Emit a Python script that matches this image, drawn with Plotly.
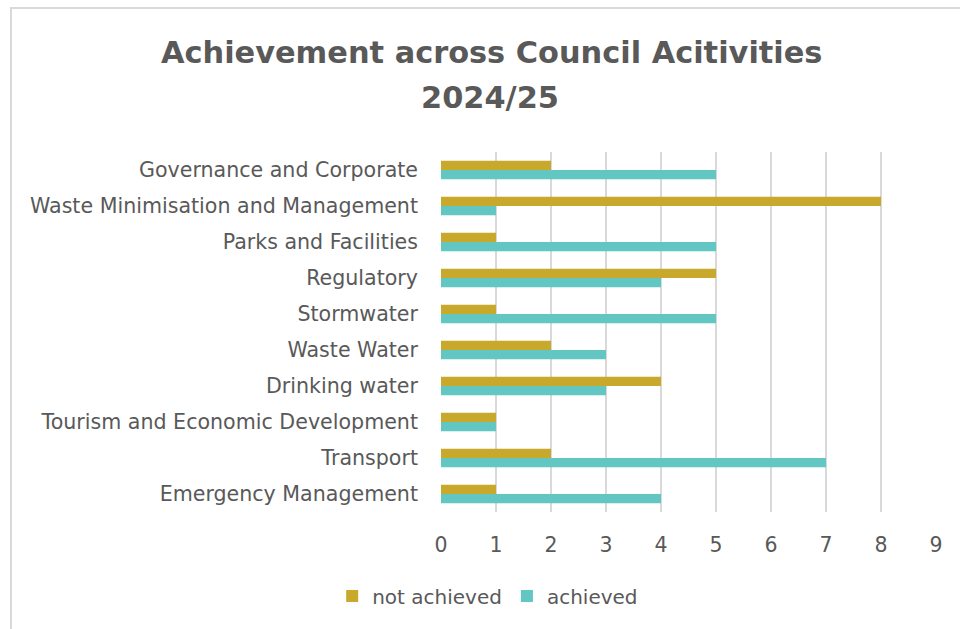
import plotly.graph_objects as go

categories = ["Governance and Corporate", "Waste Minimisation and Management", "Parks and Facilities",
              "Regulatory", "Stormwater", "Waste Water", "Drinking water",
              "Tourism and Economic Development", "Transport", "Emergency Management"]
not_achieved = [2, 8, 1, 5, 1, 2, 4, 1, 2, 1]
achieved = [5, 1, 5, 4, 5, 3, 3, 1, 7, 4]
x_ticks = list(range(0, 10))

GOLD = "#C9A92C"
TEAL = "#62C6C2"
TEXT = "#595959"
GRID = "#D9D9D9"

W, H = 960, 629
L, R, T, B = 441, 936, 152, 512
pw, ph = R - L, B - T

fig = go.Figure()
fig.add_trace(go.Bar(y=categories, x=not_achieved, name="not achieved", orientation="h",
                     marker=dict(color=GOLD, line=dict(width=0))))
fig.add_trace(go.Bar(y=categories, x=achieved, name="achieved", orientation="h",
                     marker=dict(color=TEAL, line=dict(width=0))))

font_main = "DejaVu Sans, Open Sans, Arial, sans-serif"
title_font = "DejaVu Sans, Liberation Sans, Arial, sans-serif"
fig.update_layout(
    width=W, height=H,
    margin=dict(l=L, r=W - R, t=T, b=H - B, pad=0),
    paper_bgcolor="white", plot_bgcolor="white",
    barmode="group", bargap=0.48, bargroupgap=0,
    font=dict(family=font_main, color=TEXT, size=20),
    showlegend=True,
    legend=dict(orientation="h", xref="container", yref="container", x=0.508, y=1 - 596 / H,
                xanchor="center", yanchor="middle", font=dict(size=20, color=TEXT),
                itemwidth=30, tracegroupgap=0),
    xaxis=dict(range=[0, 9], tickvals=x_ticks, showgrid=True, gridcolor=GRID, gridwidth=2,
               zeroline=False, showline=False, ticks="", ticklabelstandoff=18,
               tickfont=dict(size=20.5, color=TEXT), fixedrange=True),
    yaxis=dict(autorange="reversed", showgrid=False, zeroline=False, showline=False, ticks="",
               ticklabelstandoff=22, tickfont=dict(size=20.6, color=TEXT)),
    annotations=[
        dict(text="<b>Achievement across Council Acitivities</b>", xref="paper", yref="paper",
             x=(491 - L) / pw, y=1 + (T - 52) / ph, xanchor="center", yanchor="middle",
             showarrow=False, font=dict(family=title_font, size=30.4, color=TEXT)),
        dict(text="<b>2024/25</b>", xref="paper", yref="paper",
             x=(490 - L) / pw, y=1 + (T - 97) / ph, xanchor="center", yanchor="middle",
             showarrow=False, font=dict(family=title_font, size=30.4, color=TEXT)),
    ],
    shapes=[dict(type="rect", xref="paper", yref="paper",
                 x0=(11 - L) / pw, x1=(975 - L) / pw, y0=1 - (650 - T) / ph, y1=1 + (T - 8) / ph,
                 line=dict(color=GRID, width=2), fillcolor="rgba(0,0,0,0)", layer="below")],
)

fig.write_html("out.html")
